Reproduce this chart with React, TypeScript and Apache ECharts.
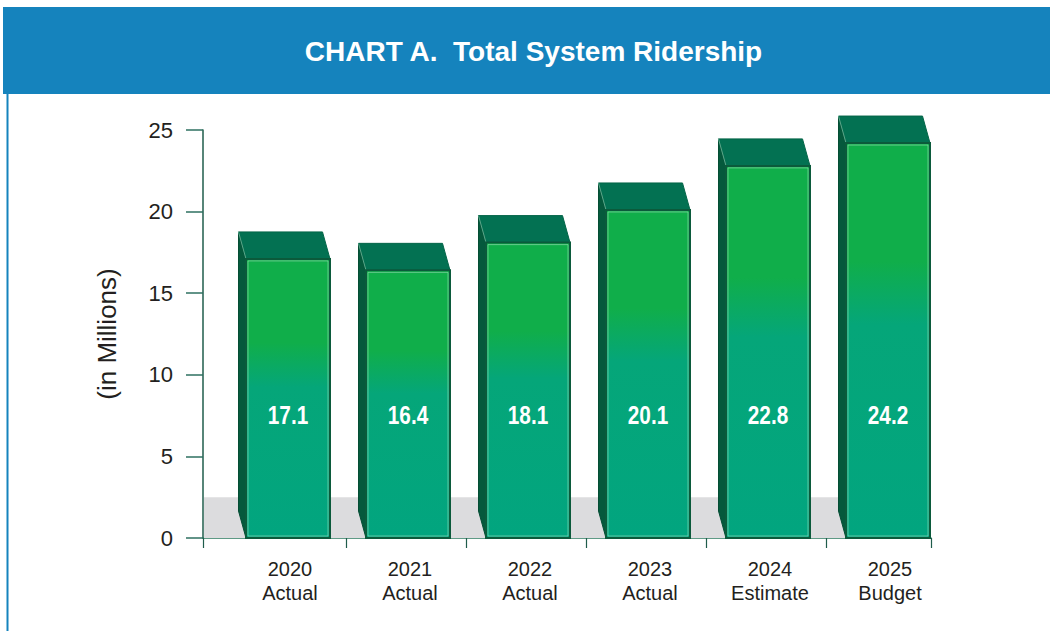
import React, { useEffect, useRef } from "react";
import * as echarts from "echarts";

const TITLE = "CHART A.  Total System Ridership";
const Y_NAME = "(in Millions)";
const CATEGORIES = ["2020\nActual", "2021\nActual", "2022\nActual", "2023\nActual", "2024\nEstimate", "2025\nBudget"];
const RIDERSHIP = [17.1, 16.4, 18.1, 20.1, 22.8, 24.2];
const Y_MIN = 0;
const Y_MAX = 25;
const Y_STEP = 5;
const TICK_BANDS = ["a", "b", "c", "d", "e"];
const FLOOR = [[0, 0.882, 2.5]];
const LABEL_LEVEL = 7.5;

const BLUE = "#1583bd";
const AXIS = "#1f5c4b";
const TEXT = "#231f20";

export default function App() {
  const ref = useRef<HTMLDivElement>(null);
  useEffect(() => {
    if (!ref.current) return;
    const chart = echarts.init(ref.current, null, { renderer: "svg" });
    const gridTop = 130;
    const gridBottom = 93;
    const option: any = {
      animation: false,
      backgroundColor: "#ffffff",
      graphic: [
        { type: "rect", z: 0, shape: { x: 3, y: 7, width: 1047, height: 87 }, style: { fill: BLUE } },
        { type: "rect", z: 0, shape: { x: 6.5, y: 94, width: 2, height: 537 }, style: { fill: BLUE } },
        {
          type: "text",
          z: 10,
          x: 533.5,
          y: 51,
          style: {
            text: TITLE,
            fill: "#ffffff",
            font: "bold 28px 'Liberation Sans', Arial, sans-serif",
            align: "center",
            verticalAlign: "middle",
          },
        },
      ],
      grid: [
        { left: 203, right: 119, top: gridTop, bottom: gridBottom },
        { left: 226, right: 104, top: gridTop, bottom: gridBottom },
        { left: 226, right: 224, top: gridTop, bottom: gridBottom },
      ],
      xAxis: [
        {
          gridIndex: 0,
          type: "value",
          min: 0,
          max: 1,
          interval: 1,
          axisLine: { show: true, lineStyle: { color: "#2a7a5e", width: 1.5 } },
          axisTick: { show: true, length: 10, lineStyle: { color: AXIS, width: 1.2 } },
          axisLabel: { show: false },
          splitLine: { show: false },
        },
        {
          gridIndex: 1,
          type: "category",
          data: CATEGORIES,
          axisLine: { show: false },
          axisTick: { show: false },
          axisLabel: {
            margin: 19,
            color: TEXT,
            fontSize: 20,
            lineHeight: 24,
            padding: [0, 0, 0, 8],
            fontFamily: "'Liberation Sans', Arial, sans-serif",
            interval: 0,
          },
        },
        {
          gridIndex: 2,
          type: "category",
          data: TICK_BANDS,
          axisLine: { show: false },
          axisLabel: { show: false },
          axisTick: {
            show: true,
            length: 10,
            interval: (i: number) => i >= 1,
            lineStyle: { color: AXIS, width: 1.2 },
          },
        },
      ],
      yAxis: [
        {
          gridIndex: 0,
          type: "value",
          min: Y_MIN,
          max: Y_MAX,
          interval: Y_STEP,
          name: Y_NAME,
          nameLocation: "middle",
          nameRotate: 90,
          nameGap: 83,
          nameTextStyle: { color: TEXT, fontSize: 26, fontFamily: "'Liberation Sans', Arial, sans-serif" },
          axisLine: { show: true, lineStyle: { color: AXIS, width: 1.5 } },
          axisTick: { show: true, length: 17, lineStyle: { color: "#2e7060", width: 1.5 } },
          axisLabel: { margin: 30, color: TEXT, fontSize: 22, fontFamily: "'Liberation Sans', Arial, sans-serif" },
          splitLine: { show: false },
        },
        { gridIndex: 1, type: "value", min: Y_MIN, max: Y_MAX, show: false },
        { gridIndex: 2, type: "value", min: Y_MIN, max: Y_MAX, show: false },
      ],
      series: [
        {
          type: "custom",
          xAxisIndex: 0,
          yAxisIndex: 0,
          silent: true,
          data: FLOOR,
          renderItem: (_p: any, api: any) => {
            const a = api.coord([api.value(0), api.value(2)]);
            const b = api.coord([api.value(1), 0]);
            return {
              type: "rect",
              shape: { x: a[0] + 1, y: a[1], width: b[0] - a[0] - 1, height: b[1] - a[1] },
              style: { fill: "#dcdcde" },
            };
          },
        },
        {
          type: "custom",
          xAxisIndex: 1,
          yAxisIndex: 1,
          data: RIDERSHIP.map((v, i) => [i, v]),
          renderItem: (_p: any, api: any) => {
            const i = api.value(0);
            const v = api.value(1);
            const top = api.coord([i, v]);
            const base = api.coord([i, 0]);
            const bw = api.size([1, 0])[0];
            const cx = top[0];
            const fl = cx - (bw * 40) / 120;
            const fr = cx + (bw * 44) / 120;
            const ft = top[1];
            const fb = base[1];
            const dx = -7.5;
            const dy = -27;
            const ly = api.coord([i, LABEL_LEVEL])[1];
            return {
              type: "group",
              children: [
                {
                  type: "polygon",
                  shape: { points: [[fl, ft], [fl + dx, ft + dy], [fl + dx, fb + dy], [fl, fb]] },
                  style: { fill: "#05593c", stroke: "#044d34", lineWidth: 1 },
                },
                {
                  type: "polygon",
                  shape: { points: [[fl, ft], [fr, ft], [fr + dx, ft + dy], [fl + dx, ft + dy]] },
                  style: { fill: "#037152", stroke: "#046548", lineWidth: 1 },
                },
                {
                  type: "line",
                  shape: { x1: fl + dx, y1: ft + dy, x2: fl, y2: ft },
                  style: { stroke: "rgba(150,210,180,0.6)", lineWidth: 1 },
                },
                {
                  type: "rect",
                  shape: { x: fl, y: ft, width: fr - fl, height: fb - ft },
                  style: {
                    fill: new echarts.graphic.LinearGradient(0, 0, 0, 1, [
                      { offset: 0, color: "#10ae4a" },
                      { offset: 0.3, color: "#10ae4a" },
                      { offset: 0.46, color: "#05a679" },
                      { offset: 1, color: "#02a57f" },
                    ]),
                    stroke: "#0b5a3b",
                    lineWidth: 2,
                  },
                },
                {
                  type: "rect",
                  shape: { x: fl + 2, y: ft + 2, width: fr - fl - 4, height: fb - ft - 4 },
                  style: { fill: "none", stroke: "rgba(170,225,195,0.55)", lineWidth: 1 },
                },
                {
                  type: "text",
                  x: (fl + fr) / 2,
                  y: ly,
                  scaleX: 0.8,
                  style: {
                    text: String(v),
                    fill: "#ffffff",
                    font: "bold 26px 'Liberation Sans', Arial, sans-serif",
                    align: "center",
                    verticalAlign: "middle",
                  },
                },
              ],
            };
          },
        },
      ],
    };
    chart.setOption(option);
    return () => chart.dispose();
  }, []);
  return <div ref={ref} style={{ position: "absolute", left: 0, top: 0, width: 1050, height: 631 }} />;
}
